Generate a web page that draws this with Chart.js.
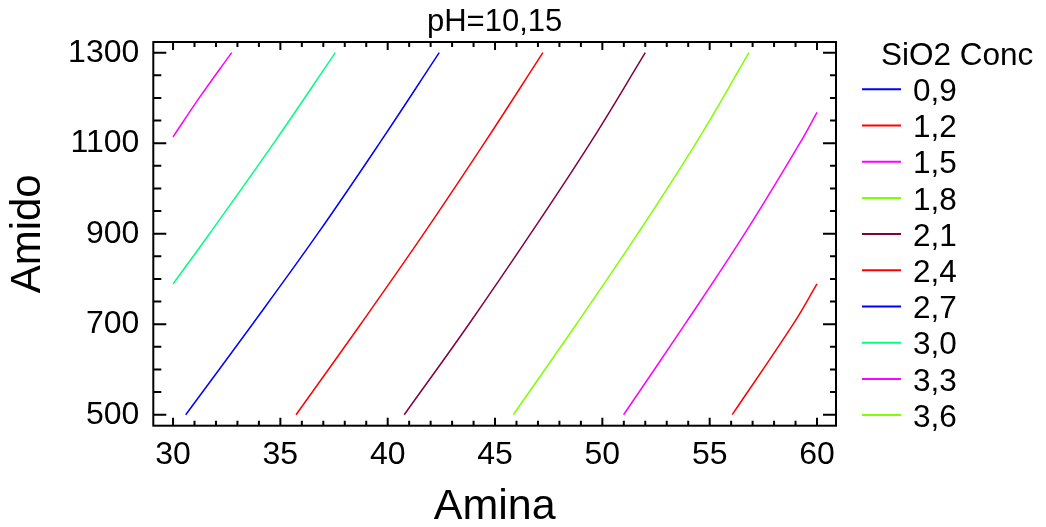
<!DOCTYPE html>
<html>
<head>
<meta charset="utf-8">
<title>pH=10,15</title>
<script src="https://cdn.jsdelivr.net/npm/chart.js@4.4.1/dist/chart.umd.min.js"></script>
<style>
  body { margin: 0; background: #fff; }
  #wrap { width: 1046px; height: 527px; }
</style>
</head>
<body>
<div id="wrap"><canvas id="myChart" width="1046" height="527"></canvas></div>
<script>
// Contour levels (SiO2 Conc) in legend order
const levels = ['0,9', '1,2', '1,5', '1,8', '2,1', '2,4', '2,7', '3,0', '3,3', '3,6'];
const levelColors = ['#0000ff', '#ff0000', '#ff00ff', '#80ff00', '#800040',
                     '#ff0000', '#0000ff', '#00ff80', '#ff00ff', '#80ff00'];

// Axis ticks
const aminaTicks = [30, 35, 40, 45, 50, 55, 60];
const amidoTicks = [500, 700, 900, 1100, 1300];

// Contour lines (Amina along x, Amido along y)
const amido09 = [];
const amina09 = [];
const amido12 = [500, 700, 789];
const amina12 = [56.05, 58.89, 60];
const amido15 = [500, 700, 900, 1100, 1168];
const amina15 = [50.99, 53.85, 56.63, 59.20, 60];
const amido18 = [500, 700, 900, 1100, 1300];
const amina18 = [45.85, 48.79, 51.65, 54.36, 56.83];
const amido21 = [500, 700, 900, 1100, 1300];
const amina21 = [40.77, 43.78, 46.66, 49.43, 52.00];
const amido24 = [500, 700, 900, 1100, 1300];
const amina24 = [35.73, 38.74, 41.68, 44.50, 47.23];
const amido27 = [500, 700, 900, 1100, 1300];
const amina27 = [30.59, 33.70, 36.74, 39.62, 42.40];
const amido30 = [789, 900, 1100, 1300];
const amina30 = [30, 31.70, 34.69, 37.56];
const amido33 = [1114, 1200, 1300];
const amina33 = [30, 31.22, 32.73];
const amido36 = [];
const amina36 = [];

const aminaSets = [amina09, amina12, amina15, amina18, amina21, amina24, amina27, amina30, amina33, amina36];
const amidoSets = [amido09, amido12, amido15, amido18, amido21, amido24, amido27, amido30, amido33, amido36];

const FONT = 'Liberation Sans, Arial, Helvetica, sans-serif';

// Pairs x/y arrays into points
const datasets = levels.map((lvl, i) => ({
    label: lvl,
    data: aminaSets[i].map((x, k) => ({ x: x, y: amidoSets[i][k] })),
    borderColor: levelColors[i],
    backgroundColor: levelColors[i],
    borderWidth: 1.5,
    pointRadius: 0,
    showLine: true,
    tension: 0.4
}));

// Frame with inward ticks on all four sides, and the legend on the right
const framePlugin = {
    id: 'frame',
    afterDraw(chart) {
        const { ctx, chartArea: a, scales } = chart;
        const xs = scales.x, ys = scales.y;
        ctx.save();
        ctx.strokeStyle = '#000';
        ctx.lineWidth = 2;
        ctx.strokeRect(a.left, a.top, a.right - a.left, a.bottom - a.top);

        ctx.beginPath();
        for (let v = Math.ceil(xs.min); v <= xs.max; v++) {
            const px = xs.getPixelForValue(v);
            const len = aminaTicks.includes(v) ? 8 : 5;
            ctx.moveTo(px, a.bottom); ctx.lineTo(px, a.bottom - len);
            ctx.moveTo(px, a.top); ctx.lineTo(px, a.top + len);
        }
        for (let v = Math.ceil(ys.min / 50) * 50; v <= ys.max; v += 50) {
            const py = ys.getPixelForValue(v);
            const major = amidoTicks.includes(v);
            ctx.moveTo(a.left, py); ctx.lineTo(a.left + (major ? 13 : 8), py);
            ctx.moveTo(a.right, py); ctx.lineTo(a.right - (major ? 13 : 6), py);
        }
        ctx.stroke();

        // legend
        const lx = a.right + 26;
        ctx.fillStyle = '#000';
        ctx.font = '31.5px ' + FONT;
        ctx.textAlign = 'left';
        ctx.textBaseline = 'alphabetic';
        ctx.fillText('SiO2 Conc', a.right + 45, 65);
        chart.data.datasets.forEach((ds, i) => {
            const y = 89.3 + 36.2 * i;
            ctx.strokeStyle = ds.borderColor;
            ctx.lineWidth = 2;
            ctx.beginPath();
            ctx.moveTo(lx, y);
            ctx.lineTo(lx + 39, y);
            ctx.stroke();
            ctx.fillText(ds.label, lx + 51, y + 11.7);
        });
        ctx.restore();
    }
};

const ctx = document.getElementById('myChart').getContext('2d');
new Chart(ctx, {
    type: 'scatter',
    data: { datasets: datasets },
    options: {
        responsive: false,
        animation: false,
        layout: { padding: { left: 0, right: 210, top: 0, bottom: 0 } },
        plugins: {
            legend: { display: false },
            tooltip: { enabled: false },
            title: {
                display: true,
                fullSize: false,
                text: 'pH=10,15',
                color: '#000',
                font: { family: FONT, size: 31, weight: 'normal', lineHeight: 1.2 },
                padding: { top: 4.3, bottom: 0.5 }
            }
        },
        scales: {
            x: {
                type: 'linear',
                min: 29.08,
                max: 60.885,
                grid: { display: false, drawTicks: false },
                border: { display: false },
                afterBuildTicks: (scale) => { scale.ticks = aminaTicks.map(v => ({ value: v })); },
                afterFit: (scale) => { scale.height = 101.3; },
                ticks: {
                    color: '#000',
                    padding: 10.7,
                    maxRotation: 0,
                    font: { family: FONT, size: 32 },
                    callback: (v) => String(v)
                },
                title: {
                    display: true,
                    text: 'Amina',
                    color: '#000',
                    font: { family: FONT, size: 43, lineHeight: 0.94 },
                    padding: 0
                }
            },
            y: {
                type: 'linear',
                min: 475.7,
                max: 1323.6,
                grid: { display: false, drawTicks: false },
                border: { display: false },
                afterBuildTicks: (scale) => { scale.ticks = amidoTicks.map(v => ({ value: v })); },
                afterFit: (scale) => { scale.width = 153.3; },
                ticks: {
                    color: '#000',
                    padding: 14,
                    font: { family: FONT, size: 32 },
                    callback: (v) => String(v)
                },
                title: {
                    display: true,
                    text: 'Amido',
                    color: '#000',
                    font: { family: FONT, size: 42, lineHeight: 1.2 },
                    padding: { top: 3.4, bottom: 0 }
                }
            }
        }
    },
    plugins: [framePlugin]
});
</script>
</body>
</html>
